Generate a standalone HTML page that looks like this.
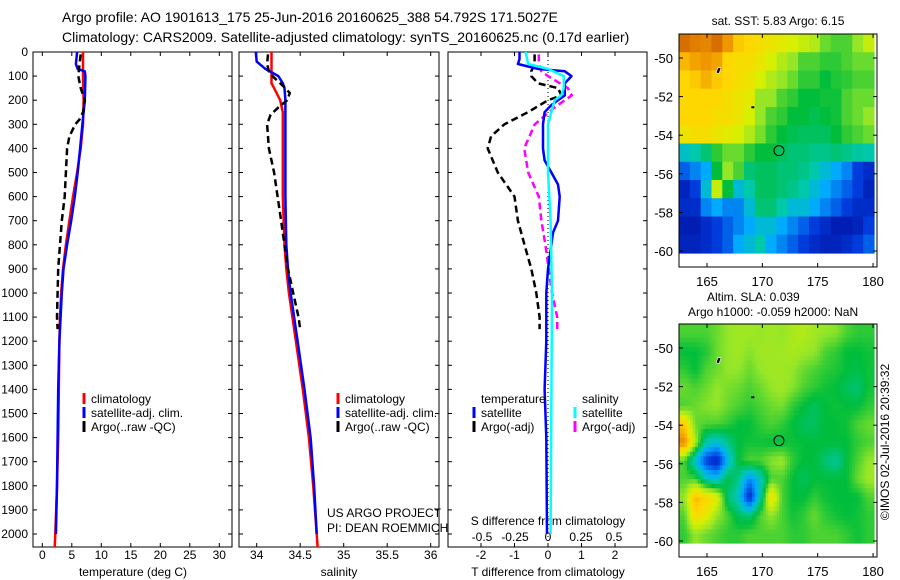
<!DOCTYPE html>
<html><head><meta charset="utf-8">
<style>
html,body{margin:0;padding:0;background:#fff;}
svg{display:block;font-family:"Liberation Sans",sans-serif;}
text{fill:#000;}
</style></head>
<body>
<svg id="chart" width="900" height="580" viewBox="0 0 900 580" xmlns="http://www.w3.org/2000/svg">
<text x="62" y="22" font-size="14">Argo profile: AO 1901613_175 25-Jun-2016 20160625_388 54.792S 171.5027E</text>
<text x="62" y="42" font-size="14">Climatology: CARS2009. Satellite-adjusted climatology: synTS_20160625.nc (0.17d earlier)</text>
<g id="p1"></g>
<g id="p2"></g>
<g id="p3"></g>
<g id="m1"></g>
<g id="m2"></g>
<text x="778" y="25" font-size="12" text-anchor="middle">sat. SST: 5.83 Argo: 6.15</text>
<text x="707" y="301" font-size="12">Altim. SLA: 0.039</text>
<text x="688" y="316" font-size="12">Argo h1000: -0.059 h2000: NaN</text>
<text x="0" y="0" font-size="12" text-anchor="middle" transform="translate(889,442) rotate(-90)">©IMOS 02-Jul-2016 20:39:32</text>
<text x="327" y="517" font-size="12">US ARGO PROJECT</text>
<text x="327" y="532" font-size="12">PI: DEAN ROEMMICH</text>
</svg>
<script>
// ---------- data ----------
const depthTicks=[0,100,200,300,400,500,600,700,800,900,1000,1100,1200,1300,1400,1500,1600,1700,1800,1900,2000];
const tempTicks=[0,5,10,15,20,25,30];
const salTicks=[34,34.5,35,35.5,36];
const tdTicks=[-2,-1,0,1,2];
const sdTicks=[-0.5,-0.25,0,0.25,0.5];
const sdTickLabels=['-0.5','-0.25','0','0.25','0.5'];
const lonTicks=[165,170,175,180];
const latTicks=[-50,-52,-54,-56,-58,-60];

const climTdep=[0,100,200,300,400,500,600,700,800,900,1000,1100,1200,1400,1600,1800,2000,2054];
const climTval=[6.9,6.9,7.0,6.9,6.5,5.9,5.2,4.6,4.0,3.5,3.2,3.0,2.9,2.8,2.7,2.5,2.2,2.1];
const satTdep=[0,50,70,80,100,200,300,400,500,600,700,800,900,1000,1100,1200,1400,1600,1800,2000];
const satTval=[5.9,5.7,6.0,7.2,7.3,7.2,6.8,6.4,6.0,5.5,4.9,4.2,3.6,3.3,3.1,2.9,2.7,2.6,2.5,2.3];
const argoTdep=[10,50,100,150,200,250,280,300,350,400,500,600,700,800,900,1000,1100,1150];
const argoTval=[6.5,6.3,6.1,6.5,7.2,6.9,6.3,5.6,4.6,4.2,4.0,3.8,3.3,3.0,2.7,2.6,2.5,2.6];

const climSdep=[0,80,130,150,200,250,300,400,600,800,900,1000,1200,1400,1600,1800,2000,2054];
const climSval=[34.17,34.17,34.17,34.2,34.27,34.3,34.3,34.3,34.3,34.32,34.34,34.37,34.45,34.53,34.6,34.65,34.69,34.7];
const satSdep=[0,40,70,100,130,150,200,400,600,800,900,1000,1200,1400,1600,1800,2000];
const satSval=[33.99,34.0,34.1,34.25,34.3,34.32,34.33,34.33,34.33,34.34,34.36,34.39,34.47,34.55,34.62,34.66,34.69];
const argoSdep=[10,50,80,100,140,170,200,230,260,300,400,500,600,700,800,900,1000,1100,1150];
const argoSval=[34.13,34.12,34.14,34.18,34.3,34.38,34.35,34.25,34.16,34.12,34.14,34.2,34.24,34.28,34.32,34.36,34.42,34.48,34.5];

const satTdDep=[0,30,50,70,80,100,130,180,220,250,300,400,450,500,550,600,700,750,800,900,1000,1200,1400,1600,2000];
const satTdVal=[-0.85,-0.85,-0.9,-0.3,0.5,0.7,0.5,0.5,0.1,-0.1,-0.15,-0.15,-0.1,0.1,0.3,0.35,0.3,0.15,0.1,0.0,-0.05,-0.05,-0.1,-0.05,-0.03];
const argoTdDep=[10,50,80,100,130,150,180,200,250,300,350,400,500,600,700,800,900,1000,1100,1150];
const argoTdVal=[-0.4,-0.4,-0.5,-0.5,-0.3,0.3,0.4,0.0,-0.6,-1.3,-1.7,-1.8,-1.5,-1.0,-0.9,-0.7,-0.5,-0.35,-0.25,-0.25];
const satSdDep=[0,50,70,100,150,180,200,300,500,700,1000,2000];
const satSdVal=[-0.17,-0.15,0.0,0.12,0.12,0.1,0.05,0.0,0.0,0.02,0.03,0.02];
const argoSdDep=[10,50,80,100,150,180,230,300,400,500,600,700,800,1000,1100,1150];
const argoSdVal=[-0.07,-0.07,-0.05,0.0,0.15,0.18,0.05,-0.1,-0.18,-0.15,-0.07,-0.05,-0.02,0.03,0.07,0.07];

const sstGrid=[
[.95,.93,.92,.95,.9,.82,.8,.78,.76,.74,.72,.7,.68,.62,.6,.6,.65,.7],
[.85,.88,.9,.88,.8,.78,.78,.76,.72,.68,.65,.6,.6,.58,.58,.6,.62,.62],
[.8,.82,.86,.82,.8,.78,.76,.72,.68,.65,.62,.58,.58,.55,.57,.58,.6,.6],
[.8,.8,.8,.8,.78,.76,.74,.65,.65,.6,.58,.55,.55,.56,.56,.6,.62,.62],
[.8,.8,.8,.78,.78,.76,.72,.65,.6,.58,.55,.55,.53,.55,.56,.6,.62,.65],
[.76,.78,.78,.76,.74,.72,.68,.63,.58,.55,.53,.52,.52,.52,.55,.58,.6,.62],
[.42,.45,.5,.58,.62,.62,.58,.55,.55,.52,.5,.5,.48,.48,.5,.48,.46,.45],
[.25,.3,.35,.55,.65,.6,.5,.52,.52,.5,.5,.48,.45,.4,.35,.3,.2,.15],
[.12,.2,.4,.7,.55,.4,.45,.52,.52,.5,.48,.45,.4,.35,.3,.25,.2,.12],
[.15,.15,.3,.35,.3,.3,.4,.5,.5,.45,.4,.4,.35,.3,.25,.2,.15,.15],
[.1,.1,.15,.2,.25,.3,.35,.4,.4,.35,.3,.25,.2,.15,.1,.1,.12,.2],
[.12,.12,.15,.2,.25,.35,.4,.45,.35,.3,.25,.2,.15,.12,.12,.15,.2,.25]];
const slaGrid=[
[.6,.6,.6,.62,.65,.66,.66,.65,.66,.65,.67,.68,.66,.65,.64,.6,.58,.58],
[.55,.55,.57,.62,.65,.66,.64,.66,.66,.66,.67,.66,.65,.6,.58,.55,.55,.56],
[.58,.55,.6,.62,.65,.65,.62,.65,.66,.66,.65,.62,.6,.58,.57,.55,.54,.56],
[.62,.6,.62,.65,.63,.62,.6,.62,.65,.66,.64,.6,.58,.56,.55,.52,.5,.56],
[.6,.62,.64,.65,.62,.6,.58,.6,.62,.63,.58,.55,.52,.55,.56,.55,.55,.58],
[.82,.62,.6,.6,.58,.55,.55,.58,.6,.58,.55,.52,.52,.55,.55,.56,.6,.62],
[.92,.68,.45,.4,.48,.55,.56,.56,.55,.55,.56,.55,.55,.55,.55,.55,.58,.6],
[.6,.4,.2,.12,.38,.55,.6,.6,.64,.66,.58,.55,.55,.5,.46,.55,.6,.65],
[.6,.6,.45,.4,.55,.48,.3,.42,.6,.6,.55,.52,.55,.55,.55,.55,.62,.66],
[.65,.85,.8,.75,.5,.42,.15,.45,.8,.6,.55,.55,.58,.56,.55,.55,.55,.6],
[.6,.8,.75,.65,.6,.52,.5,.6,.65,.6,.56,.58,.62,.58,.56,.55,.56,.58],
[.58,.65,.62,.6,.58,.58,.6,.6,.6,.6,.58,.58,.6,.6,.6,.58,.56,.58]];
const argoLon=171.5, argoLat=-54.8;

// ---------- helpers ----------
const NS='http://www.w3.org/2000/svg';
function mk(parent,tag,attrs,txt){const e=document.createElementNS(NS,tag);for(const k in attrs)e.setAttribute(k,attrs[k]);if(txt!==undefined)e.textContent=txt;parent.appendChild(e);return e;}
const TOP=52,BOT=547;
const yD=d=>TOP+d*(BOT-TOP)/2054;

function frame(g,L,R){
  const r=mk(g,'rect',{x:L,y:TOP,width:R-L,height:BOT-TOP,fill:'none',stroke:'#000','stroke-width':1});
  
  
  depthTicks.forEach(d=>{
    mk(g,'line',{x1:L,x2:L+4,y1:yD(d),y2:yD(d),stroke:'#000'});
    mk(g,'line',{x1:R-4,x2:R,y1:yD(d),y2:yD(d),stroke:'#000'});
  });
}
function xticks(g,xs,labels,fx,y){
  xs.forEach((v,i)=>{
    const x=fx(v);
    mk(g,'line',{x1:x,x2:x,y1:BOT,y2:BOT-4,stroke:'#000'});
    mk(g,'line',{x1:x,x2:x,y1:TOP,y2:TOP+4,stroke:'#000'});
    const t=mk(g,'text',{x:x,y:y,'font-size':12,'text-anchor':'middle'},labels[i]);
    
    
  });
}
function line(g,deps,vals,fx,color,dash,name){
  const pts=deps.map((d,i)=>fx(vals[i]).toFixed(1)+','+yD(d).toFixed(1)).join(' ');
  const a={points:pts,fill:'none',stroke:color,'stroke-width':2.5,'stroke-linejoin':'round'};
  if(dash)a['stroke-dasharray']=dash;
  const p=mk(g,'polyline',a);
  
  
}
function legendItem(g,x,y,color,label,name){
  mk(g,'line',{x1:x,x2:x,y1:y-10,y2:y+1,stroke:color,'stroke-width':3});
  const t=mk(g,'text',{x:x+7,y:y,'font-size':12},label);
  
  
}

// ---------- panel 1 temperature ----------
const p1=document.getElementById('p1');
const xT=t=>42.3+t*5.9;
frame(p1,33,232);
depthTicks.forEach(d=>{const t=mk(p1,'text',{x:28,y:yD(d)+4,'font-size':12,'text-anchor':'end'},String(d));
  });
xticks(p1,tempTicks,tempTicks.map(String),xT,559);
mk(p1,'text',{x:133,y:576,'font-size':12,'text-anchor':'middle'},'temperature (deg C)');
line(p1,climTdep,climTval,xT,'#f00',null,'climatology-temperature-line');
line(p1,satTdep,satTval,xT,'#00f',null,'satellite-temperature-line');
line(p1,argoTdep,argoTval,xT,'#000','7,4','argo-temperature-line');
legendItem(p1,84,403,'#f00','climatology','legend-climatology');
legendItem(p1,84,417,'#00f','satellite-adj. clim.','legend-satellite');
legendItem(p1,84,431,'#000','Argo(..raw -QC)','legend-argo');

// ---------- panel 2 salinity ----------
const p2=document.getElementById('p2');
const xS=s=>256.7+(s-34)*87;
frame(p2,239,439);
xticks(p2,salTicks,['34','34.5','35','35.5','36'],xS,559);
mk(p2,'text',{x:339,y:576,'font-size':12,'text-anchor':'middle'},'salinity');
line(p2,climSdep,climSval,xS,'#f00',null,'climatology-salinity-line');
line(p2,satSdep,satSval,xS,'#00f',null,'satellite-salinity-line');
line(p2,argoSdep,argoSval,xS,'#000','7,4','argo-salinity-line');
legendItem(p2,338,403,'#f00','climatology','legend-climatology');
legendItem(p2,338,417,'#00f','satellite-adj. clim.','legend-satellite');
legendItem(p2,338,431,'#000','Argo(..raw -QC)','legend-argo');

// ---------- panel 3 differences ----------
const p3=document.getElementById('p3');
const xTd=t=>548+t*33.5;
const xSd=s=>548+s*132;
frame(p3,448,647);
mk(p3,'line',{x1:548,x2:548,y1:TOP,y2:BOT,stroke:'#000','stroke-dasharray':'1,3'});
xticks(p3,tdTicks,tdTicks.map(String),xTd,559);
sdTicks.forEach((v,i)=>{const t=mk(p3,'text',{x:xSd(v),y:541,'font-size':12,'text-anchor':'middle'},sdTickLabels[i]);
  });
mk(p3,'text',{x:548,y:525,'font-size':12,'text-anchor':'middle'},'S difference from climatology');
mk(p3,'text',{x:548,y:576,'font-size':12,'text-anchor':'middle'},'T difference from climatology');
line(p3,argoTdDep,argoTdVal,xTd,'#000','7,4','argo-t-diff-line');
line(p3,argoSdDep,argoSdVal,xSd,'#f0f','7,4','argo-s-diff-line');
line(p3,satTdDep,satTdVal,xTd,'#00f',null,'satellite-t-diff-line');
line(p3,satSdDep,satSdVal,xSd,'#0ff',null,'satellite-s-diff-line');
mk(p3,'text',{x:481,y:403,'font-size':12},'temperature');
mk(p3,'text',{x:582,y:403,'font-size':12},'salinity');
legendItem(p3,474,417,'#00f','satellite','legend-t-satellite');
legendItem(p3,474,431,'#000','Argo(-adj)','legend-t-argo');
legendItem(p3,575,417,'#0ff','satellite','legend-s-satellite');
legendItem(p3,575,431,'#f0f','Argo(-adj)','legend-s-argo');

// ---------- maps ----------
const cmapStops=[[0,[0,0,140]],[.2,[0,60,220]],[.35,[0,170,255]],[.45,[0,200,170]],[.55,[0,190,60]],[.65,[150,230,40]],[.72,[215,240,0]],[.8,[255,215,0]],[.9,[240,150,0]],[1,[190,70,0]]];
function cmap(v){v=Math.max(0,Math.min(1,v));for(let i=1;i<cmapStops.length;i++){if(v<=cmapStops[i][0]){const [a,ca]=cmapStops[i-1],[b,cb]=cmapStops[i];const f=(v-a)/(b-a);return 'rgb('+ca.map((c,k)=>Math.round(c+(cb[k]-c)*f)).join(',')+')';}}return 'rgb(190,70,0)';}
function drawMap(gid,grid,oy,sub){
  const g=document.getElementById(gid);
  const L=679,R=874,T=34+oy,B=253+oy;
  const nr=grid.length,nc=grid[0].length;
  const rows=nr*sub,cols=nc*sub;
  const cw=(R-L)/cols,ch=(B-T)/rows;
  for(let r=0;r<rows;r++)for(let c=0;c<cols;c++){
    let v;
    if(sub===1)v=grid[r][c];
    else{const fr=Math.max(0,Math.min(nr-1,(r+0.5)/sub-0.5)),fc=Math.max(0,Math.min(nc-1,(c+0.5)/sub-0.5));
      const r0=Math.floor(fr),c0=Math.floor(fc),r1=Math.min(nr-1,r0+1),c1=Math.min(nc-1,c0+1),a=fr-r0,b=fc-c0;
      v=grid[r0][c0]*(1-a)*(1-b)+grid[r0][c1]*(1-a)*b+grid[r1][c0]*a*(1-b)+grid[r1][c1]*a*b;}
    const cell=mk(g,'rect',{x:(L+c*cw).toFixed(2),y:(T+r*ch).toFixed(2),width:(cw+0.6).toFixed(2),height:(ch+0.6).toFixed(2),fill:cmap(v)});
    
    
  }
  const xL=lon=>707+(lon-165)*11.07, yL=lat=>58+oy+(-50-lat)*19.3;
  mk(g,'rect',{x:679,y:34+oy,width:198,height:233,fill:'none',stroke:'#000'});
  lonTicks.forEach(v=>{const x=xL(v);mk(g,'line',{x1:x,x2:x,y1:267+oy,y2:263+oy,stroke:'#000'});mk(g,'line',{x1:x,x2:x,y1:34+oy,y2:38+oy,stroke:'#000'});
    const t=mk(g,'text',{x:x,y:286+oy,'font-size':13,'text-anchor':'middle'},String(v));});
  latTicks.forEach(v=>{const y=yL(v);mk(g,'line',{x1:679,x2:683,y1:y,y2:y,stroke:'#000'});mk(g,'line',{x1:873,x2:877,y1:y,y2:y,stroke:'#000'});
    const t=mk(g,'text',{x:673,y:y+5,'font-size':13,'text-anchor':'end'},String(v));});
  mk(g,'path',{d:'M'+xL(166)+' '+yL(-50.5)+' l-2 5 l3 1 l2 -6 z',fill:'#000',stroke:'#fff','stroke-width':0.6});
  mk(g,'rect',{x:xL(169),y:yL(-52.5),width:3,height:2,fill:'#000'});
  const c=mk(g,'circle',{cx:xL(argoLon),cy:yL(argoLat),r:5,fill:'none',stroke:'#000','stroke-width':1});
  
  
}
drawMap('m1',sstGrid,0,1);
drawMap('m2',slaGrid,290,4);
</script>
</body></html>
